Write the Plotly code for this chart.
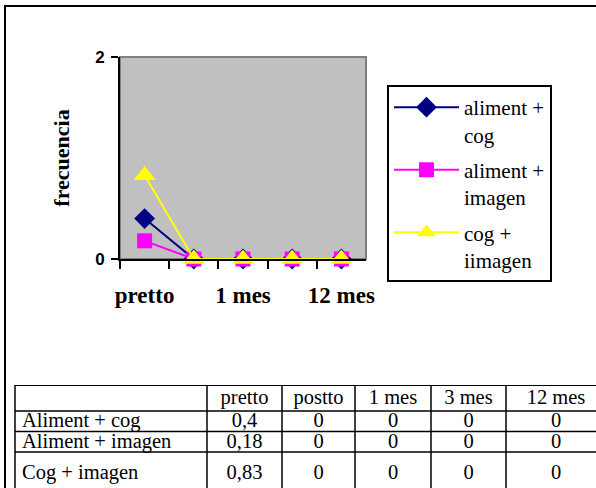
import plotly.graph_objects as go

categories = ["pretto", "postto", "1 mes", "3 mes", "12 mes"]
series_names = ["Aliment + cog", "Aliment + imagen", "Cog + imagen"]
legend_names = ["aliment +<br>cog", "aliment +<br>imagen", "cog +<br>iimagen"]
aliment_cog = [0.4, 0, 0, 0, 0]
aliment_imagen = [0.18, 0, 0, 0, 0]
cog_imagen = [0.83, 0, 0, 0, 0]
y_ticks = [0, 2]
y_title = "frecuencia"

# ---- layout constants (pixels) ----
W, H = 596, 488
serif = "Liberation Serif"
TBL_LEFT, TBL_TOP = 15, 385
COL_W = [192, 75, 73, 76, 75, 100]
ROW_H = [26, 20.5, 20.5, 42]
CELL_PAD = 7

series = [aliment_cog, aliment_imagen, cog_imagen]
colors = ["#000080", "#FF00FF", "#FFFF00"]
symbols = ["diamond", "square", "triangle-up"]
msizes = [16, 15, 19]

fig = go.Figure()
for i, (name, vals, col, sym, ms) in enumerate(zip(legend_names, series, colors, symbols, msizes)):
    fig.add_trace(go.Scatter(
        x=categories, y=vals, name=name, mode="lines+markers",
        legendgroup=f"g{i}",
        line=dict(color=col, width=2),
        marker=dict(symbol=sym, size=ms, color=col, line=dict(width=0)),
        cliponaxis=False,
    ))

# ---- data table (drawn on a hidden pixel-unit axis pair) ----
def fmt(v):
    return str(v).replace(".", ",")

col_edges = [TBL_LEFT]
for w in COL_W:
    col_edges.append(col_edges[-1] + w)
row_edges = [TBL_TOP]
for h in ROW_H:
    row_edges.append(row_edges[-1] + h)

rows = [[""] + categories] + [[n] + [fmt(v) for v in s] for n, s in zip(series_names, series)]

left_x, left_y, left_t = [], [], []
ctr_x, ctr_y, ctr_t = [], [], []
for r, row in enumerate(rows):
    yc = (row_edges[r] + row_edges[r + 1]) / 2 + 1
    for c, txt in enumerate(row):
        if c == 0:
            left_x.append(col_edges[0] + CELL_PAD); left_y.append(yc); left_t.append(txt)
        else:
            ctr_x.append((col_edges[c] + col_edges[c + 1]) / 2); ctr_y.append(yc); ctr_t.append(txt)

tfont = dict(family=serif, size=20.5, color="black")
fig.add_trace(go.Scatter(x=left_x, y=left_y, text=left_t, mode="text",
                         textposition="middle right", textfont=tfont,
                         xaxis="x3", yaxis="y3", showlegend=False, hoverinfo="skip",
                         cliponaxis=False))
fig.add_trace(go.Scatter(x=ctr_x, y=ctr_y, text=ctr_t, mode="text",
                         textposition="middle center", textfont=tfont,
                         xaxis="x3", yaxis="y3", showlegend=False, hoverinfo="skip",
                         cliponaxis=False))

shapes = []
# plot-area fill/border and outer chart frame
shapes.append(dict(type="rect", xref="x domain", yref="y domain", x0=0, x1=1, y0=0, y1=1,
                   fillcolor="#C0C0C0", line=dict(color="#808080", width=2), layer="below"))
shapes.append(dict(type="rect", xref="paper", yref="paper", x0=5 / W, x1=1.05,
                   y0=-0.05, y1=(H - 6) / H, line=dict(color="black", width=2),
                   fillcolor="rgba(0,0,0,0)", layer="below"))
# table grid: horizontal lines
for i, ye in enumerate(row_edges[:-1]):
    shapes.append(dict(type="line", xref="x3", yref="y3", x0=col_edges[0], x1=col_edges[-1],
                       y0=ye, y1=ye, line=dict(color="black", width=2 if i == 0 else 1.5)))
# table grid: vertical lines
for xe in col_edges:
    shapes.append(dict(type="line", xref="x3", yref="y3", x0=xe, x1=xe,
                       y0=row_edges[0], y1=row_edges[-1], line=dict(color="black", width=1.5)))

ticktext = [c if i % 2 == 0 else "" for i, c in enumerate(categories)]

fig.update_layout(
    width=W, height=H,
    margin=dict(l=0, r=0, t=0, b=0, autoexpand=False),
    paper_bgcolor="white",
    plot_bgcolor="rgba(0,0,0,0)",
    showlegend=True,
    legend=dict(x=387 / W, y=(H - 85) / H, xanchor="left", yanchor="top",
                bgcolor="white", bordercolor="black", borderwidth=2,
                font=dict(family=serif, size=21, color="black"),
                valign="top", itemwidth=65, tracegroupgap=5,
                entrywidth=96, entrywidthmode="pixels"),
    xaxis=dict(domain=[120 / W, 366 / W], type="category",
               categoryorder="array", categoryarray=categories,
               range=[-0.5, len(categories) - 0.5], automargin=False,
               tickmode="array", tickvals=categories, ticktext=ticktext, tickangle=0,
               tickson="boundaries", ticks="outside", ticklen=8, tickwidth=2,
               tickcolor="black", showline=True, linecolor="black", linewidth=2,
               showgrid=False, zeroline=False, ticklabelstandoff=14,
               tickfont=dict(family=serif, size=23, color="black", weight="bold")),
    yaxis=dict(domain=[(H - 259) / H, (H - 57) / H], range=[0, 2], automargin=False,
               tickmode="array", tickvals=y_ticks,
               ticks="outside", ticklen=7, tickwidth=2, tickcolor="black",
               showline=True, linecolor="black", linewidth=2,
               showgrid=False, zeroline=False, ticklabelstandoff=3,
               tickfont=dict(family="Liberation Sans", size=17, color="black", weight="bold"),
               title=dict(text=y_title, standoff=19,
                          font=dict(family=serif, size=22, color="black", weight="bold"))),
    xaxis3=dict(domain=[0, 1], range=[0, W], visible=False, fixedrange=True),
    yaxis3=dict(domain=[0, (H - TBL_TOP) / H], range=[H, TBL_TOP], visible=False,
                fixedrange=True),
    shapes=shapes,
)

fig.write_html("out.html")
